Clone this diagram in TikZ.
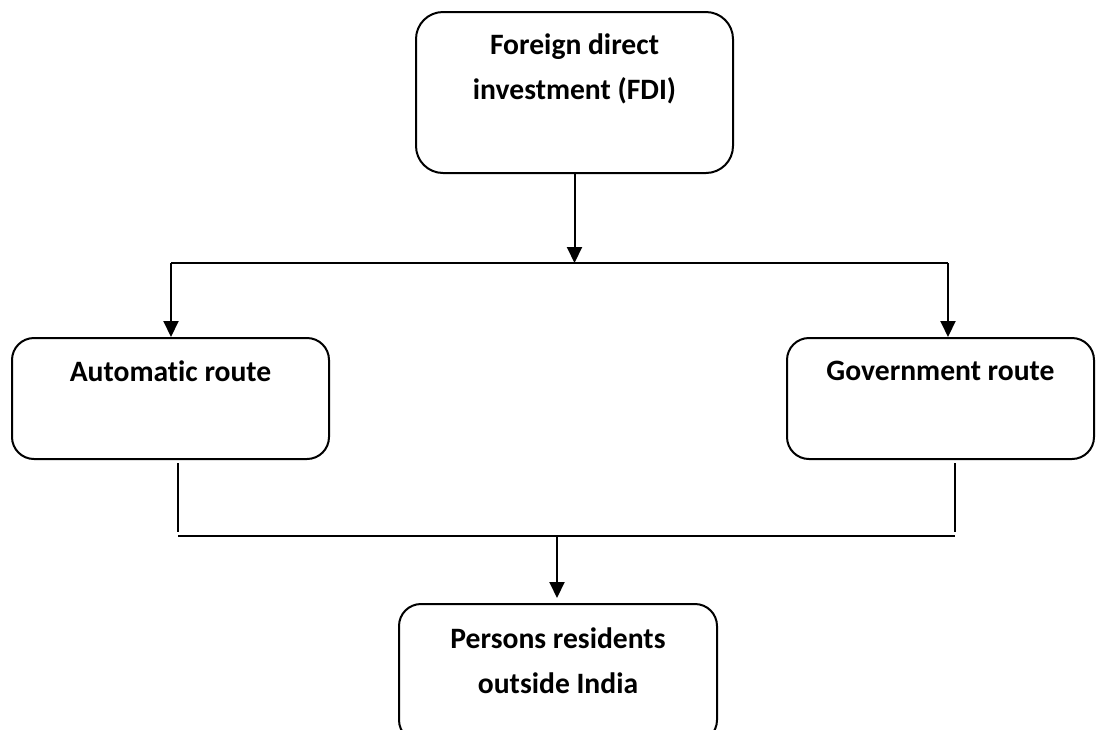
\documentclass[tikz,border=0pt]{standalone}
\usepackage{fontspec}
\setmainfont{Carlito}[Ligatures=NoCommon]
\usepackage{tikz}
\usetikzlibrary{arrows.meta,positioning}

\tikzset{
  routebox/.style={draw=black,line width=2pt,rounded corners=22pt,inner sep=0pt},
  boxtext/.style={font=\fontsize{29.6}{45}\selectfont\bfseries,align=center,inner sep=0pt},
  link/.style={line width=2pt,black},
  arrowlink/.style={link,-{Triangle[length=16pt,width=15pt]}}
}

\begin{document}
\begin{tikzpicture}[x=1pt,y=-1pt]
\useasboundingbox (0,0) rectangle (1097,729);
% boxes
\node[routebox,rounded corners=27pt,minimum width=317pt,minimum height=161pt] (fdi) at (574.5,92.5) {};
\node[routebox,minimum width=317pt,minimum height=121pt] (auto) at (170.5,398.5) {};
\node[routebox,minimum width=307pt,minimum height=121pt] (gov) at (940.5,398.5) {};
\node[routebox,minimum width=318pt,minimum height=138pt] (pers) at (558,673) {};
% texts
\node[boxtext,below=23pt of fdi.north] (fditext) {Foreign direct\\investment (FDI)};
\node[boxtext,below=24pt of auto.north] (autotext) {Automatic route};
\node[boxtext,below=24pt of gov.north] (govtext) {Government route};
\node[boxtext,below=25pt of pers.north] (perstext) {Persons residents\\outside India};
% junctions
\coordinate (split) at (574.5,263);
\coordinate (splitL) at (171,263);
\coordinate (splitR) at (948,263);
\coordinate (autoleg) at (178,463);
\coordinate (govleg) at (955,463);
\coordinate (joinL) at (178,536);
\coordinate (joinR) at (955,536);
\coordinate (join) at (557,536);
% connectors
\draw[arrowlink] (fdi.south) -- (split);
\draw[link] (splitL) -- (splitR);
\draw[arrowlink] (splitL) -- (splitL |- auto.north);
\draw[arrowlink] (splitR) -- (splitR |- gov.north);
\draw[link] (autoleg) -- ([yshift=4pt]joinL);
\draw[link] (govleg) -- ([yshift=4pt]joinR);
\draw[link] (joinL) -- (joinR);
\draw[arrowlink] (join) -- ([yshift=5pt]join |- pers.north);
\end{tikzpicture}
\end{document}
